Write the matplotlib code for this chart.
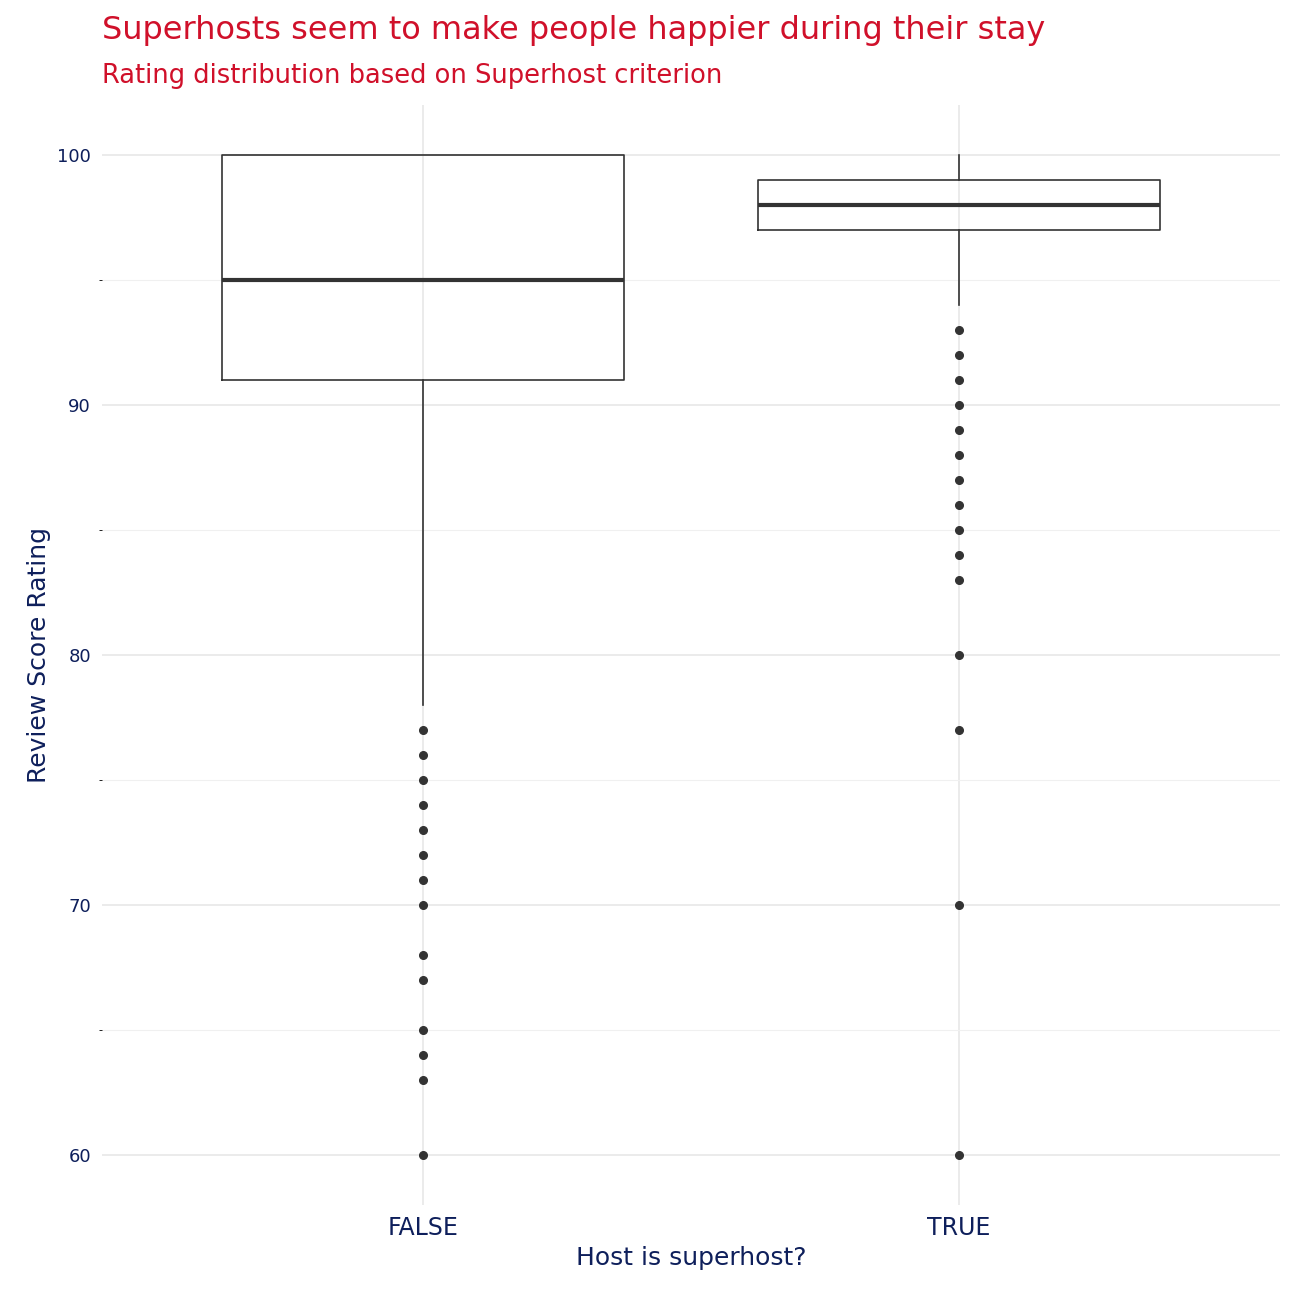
import matplotlib.pyplot as plt
import numpy as np

groups = ["FALSE", "TRUE"]
q1 = [91, 97]
med = [95, 98]
q3 = [100, 99]
whislo = [78, 94]
whishi = [100, 100]
fliers = [
    [77, 76, 75, 74, 73, 72, 71, 70, 68, 67, 65, 64, 63, 60],
    [93, 92, 91, 90, 89, 88, 87, 86, 85, 84, 83, 80, 77, 70, 60],
]

red = "#D0102A"
navy = "#0E1F5B"

fig = plt.figure(figsize=(12.96, 12.96), dpi=100)
ax = fig.add_axes([102/1296, 1 - 1205/1296, (1280-102)/1296, (1205-105)/1296])

stats = [dict(label=g, q1=a, med=m, q3=b, whislo=lo, whishi=hi, fliers=f)
         for g, a, m, b, lo, hi, f in zip(groups, q1, med, q3, whislo, whishi, fliers)]
ax.bxp(stats, positions=[1, 2], widths=0.75, showcaps=False,
       boxprops=dict(color="#333333", linewidth=1.2),
       whiskerprops=dict(color="#333333", linewidth=1.2),
       medianprops=dict(color="#333333", linewidth=3),
       flierprops=dict(marker="o", markersize=5.5, markerfacecolor="#333333",
                       markeredgecolor="#333333"), zorder=3)

ax.set_xlim(0.4, 2.6)
ax.set_ylim(58.0, 102.0)
ax.set_yticks([60, 70, 80, 90, 100])
ax.set_yticks([65, 75, 85, 95], minor=True)
ax.grid(True, which="major", color="#E5E5E5", linewidth=1.1, zorder=0)
ax.grid(True, which="minor", axis="y", color="#F0F0F0", linewidth=0.8, zorder=0)
ax.set_axisbelow(True)
for s in ax.spines.values():
    s.set_visible(False)
ax.tick_params(length=0, colors=navy, labelsize=13)
ax.tick_params(axis="x", labelsize=17, pad=8)
ax.tick_params(axis="y", pad=8)
ax.set_xlabel("Host is superhost?", color=navy, fontsize=18)
ax.set_ylabel("Review Score Rating", color=navy, fontsize=18)

fig.text(102/1296, 1 - 30/1296, "Superhosts seem to make people happier during their stay",
         color=red, fontsize=23, va="center")
fig.text(102/1296, 1 - 76/1296, "Rating distribution based on Superhost criterion",
         color=red, fontsize=18.5, va="center")

fig.savefig("out.png", dpi=100)
